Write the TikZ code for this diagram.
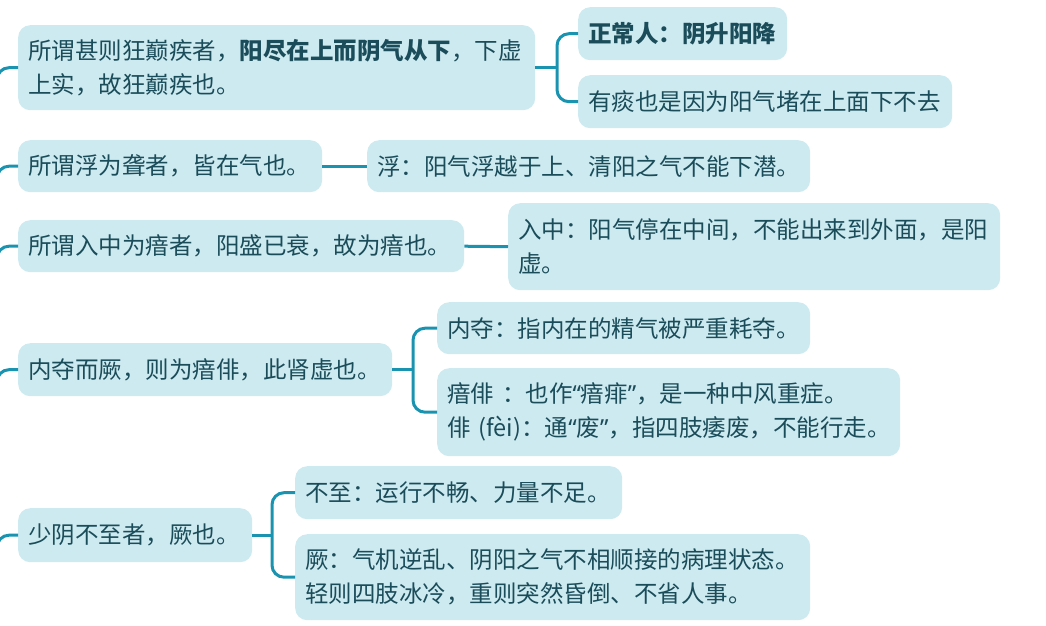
\documentclass[tikz,border=0pt]{standalone}
\usepackage{fontspec}
\setmainfont{Noto Sans CJK SC}
\newfontfamily\qfont{Noto Sans}
\newcommand{\myopq}{{\qfont “}}
\newcommand{\myclq}{{\qfont ”}}
\definecolor{boxfill}{HTML}{CDEAF0}
\definecolor{txt}{HTML}{1A4C59}
\definecolor{conn}{HTML}{1A93B1}
\tikzset{
  topic/.style={fill=boxfill, rounded corners=12pt, text=txt, anchor=north west,
    inner xsep=10pt, inner ysep=0pt, align=left,
    font=\fontsize{23.5pt}{34pt}\selectfont},
  link/.style={draw=conn, line width=3pt},
  bracket/.style={link, rounded corners=12pt},
}
\begin{document}
\begin{tikzpicture}[x=1pt,y=-1pt]
\useasboundingbox (0,0) rectangle (1046,625);

% row 1
\node[topic, text width=497pt, minimum height=85pt] (a1) at (18,25)
  {所谓甚则狂巅疾者，\textbf{阳尽在上而阴气从下}，下虚\\上实，故狂巅疾也。};
\node[topic, text width=189pt, minimum height=53pt] (b1) at (578,7)
  {\textbf{正常人：阴升阳降}};
\node[topic, text width=354pt, minimum height=53pt] (b2) at (578,75)
  {有痰也是因为阳气堵在上面下不去};

% row 2
\node[topic, text width=284pt, minimum height=52pt] (a2) at (18,140)
  {所谓浮为聋者，皆在气也。};
\node[topic, text width=423pt, minimum height=52pt] (b3) at (367,140)
  {浮：阳气浮越于上、清阳之气不能下潜。};

% row 3
\node[topic, text width=426pt, minimum height=52pt] (a3) at (18,220)
  {所谓入中为瘖者，阳盛已衰，故为瘖也。};
\node[topic, text width=472pt, minimum height=87pt] (b4) at (508,203)
  {入中：阳气停在中间，不能出来到外面，是阳\\虚。};

% row 4
\node[topic, text width=354pt, minimum height=53pt] (a4) at (18,343)
  {内夺而厥，则为瘖俳，此肾虚也。};
\node[topic, text width=353pt, minimum height=52pt] (b5) at (437,302)
  {内夺：指内在的精气被严重耗夺。};
\node[topic, text width=443pt, minimum height=88pt] (b6) at (437,368)
  {\mbox{瘖俳 ：也作\myopq 瘖痱\myclq ，是一种中风重症。}\\\mbox{俳 (fèi)：通\myopq 废\myclq ，指四肢痿废，不能行走。}};

% row 5
\node[topic, text width=214pt, minimum height=54pt] (a5) at (18,508)
  {少阴不至者，厥也。};
\node[topic, text width=307pt, minimum height=53pt] (b7) at (295,466)
  {不至：运行不畅、力量不足。};
\node[topic, text width=495pt, minimum height=86pt] (b8) at (295,534)
  {厥：气机逆乱、阴阳之气不相顺接的病理状态。\\轻则四肢冰冷，重则突然昏倒、不省人事。};

% stubs from the (cropped) trunk on the left
\coordinate (s1) at (-3,100);
\coordinate (s2) at (-3,200);
\coordinate (s3) at (-3,280);
\coordinate (s4) at (-3,400);
\coordinate (s5) at (-3,565);
\draw[bracket] (s1) |- (a1.west);
\draw[bracket] (s2) |- (a2.west);
\draw[bracket] (s3) |- (a3.west);
\draw[bracket] (s4) |- (a4.west);
\draw[bracket] (s5) |- (a5.west);

% straight links
\draw[link] (a2.east) -- (b3.west);
\draw[link] (a3.east) -- (b4.west);

% brackets
\coordinate (k1) at (557,0);
\coordinate (k4) at (413,0);
\coordinate (k5) at (272,0);
\draw[link] (a1.east) -- (a1.east -| k1);
\draw[bracket] (b1.west) -- (b1.west -| k1) -- (b2.west -| k1) -- (b2.west);
\draw[link] (a4.east) -- (a4.east -| k4);
\draw[bracket] (b5.west) -- (b5.west -| k4) -- (b6.west -| k4) -- (b6.west);
\draw[link] (a5.east) -- (a5.east -| k5);
\draw[bracket] (b7.west) -- (b7.west -| k5) -- (b8.west -| k5) -- (b8.west);
\end{tikzpicture}
\end{document}
